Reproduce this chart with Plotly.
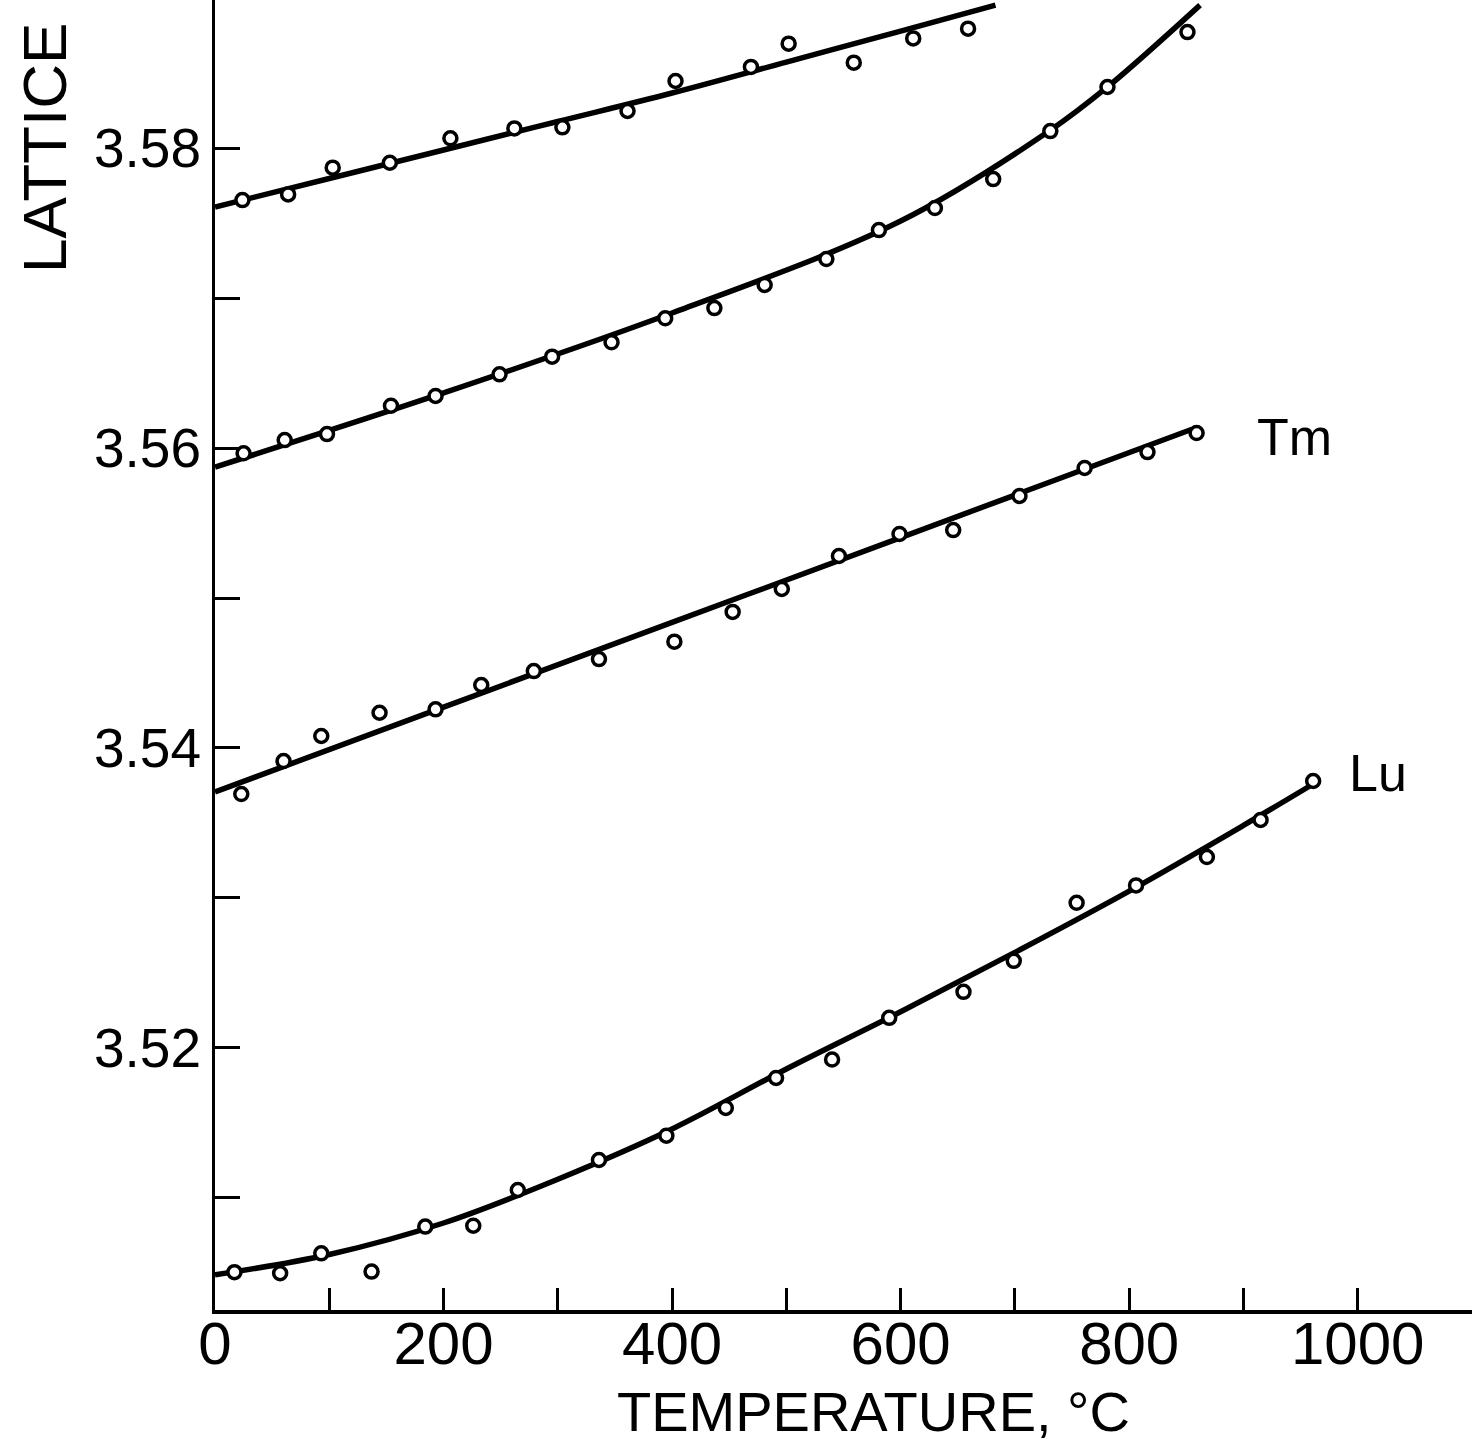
import plotly.graph_objects as go

# ---------------- data ----------------
# upper (unlabelled) series
temp_a = [24, 64, 103, 153, 206, 262, 304, 361, 403, 469, 502, 559, 611, 659]
latt_a = [3.57653, 3.57691, 3.57869, 3.57902, 3.58065, 3.58131, 3.58138, 3.58247,
          3.58447, 3.58541, 3.58696, 3.58569, 3.58731, 3.58796]
curve_t_a = [0, 100, 200, 300, 400, 500, 600, 683]
curve_v_a = [3.57607, 3.57797, 3.57987, 3.58177, 3.58367, 3.58573, 3.58780, 3.58953]

# second series
temp_b = [25, 61, 98, 154, 193, 249, 295, 347, 394, 437, 481, 535, 581, 630, 681, 731, 781, 851]
latt_b = [3.55965, 3.56053, 3.56093, 3.56282, 3.56347, 3.56491, 3.56609, 3.56705, 3.56865,
          3.56933, 3.57087, 3.57260, 3.57453, 3.57600, 3.57793, 3.58113, 3.58407, 3.58773]
curve_t_b = [0, 200, 400, 600, 730, 781, 862]
curve_v_b = [3.55873, 3.56367, 3.56900, 3.57513, 3.58113, 3.58407, 3.58953]

# Tm
temp_tm = [23, 60, 93, 144, 193, 233, 279, 336, 402, 453, 496, 546, 599, 646, 704, 761, 816, 859]
latt_tm = [3.53693, 3.53913, 3.54080, 3.54235, 3.54258, 3.54420, 3.54513, 3.54593, 3.54709,
           3.54907, 3.55060, 3.55280, 3.55427, 3.55453, 3.55680, 3.55867, 3.55973, 3.56100]
curve_t_tm = [0, 200, 400, 600, 855]
curve_v_tm = [3.53707, 3.54272, 3.54837, 3.55403, 3.56125]

# Lu
temp_lu = [17, 57, 93, 137, 184, 226, 265, 336, 395, 447, 491, 540, 590, 655, 699, 754,
           806, 868, 915, 961]
latt_lu = [3.50505, 3.50498, 3.50631, 3.50509, 3.50809, 3.50815, 3.51053, 3.51253, 3.51415,
           3.51600, 3.51800, 3.51923, 3.52201, 3.52374, 3.52581, 3.52968, 3.53084, 3.53273,
           3.53520, 3.53780]
curve_t_lu = [0, 100, 200, 300, 400, 500, 600, 700, 800, 900, 961]
curve_v_lu = [3.50487, 3.50623, 3.50833, 3.51125, 3.51460, 3.51860, 3.52241, 3.52637,
              3.53046, 3.53484, 3.53760]

series_labels = ["Tm", "Lu"]
label_t = [945, 1018]
label_v = [3.56073, 3.53833]

x_tickvals = list(range(0, 1101, 100))
x_ticktext = ["0", "", "200", "", "400", "", "600", "", "800", "", "1000", ""]
y_tickvals = [3.51, 3.52, 3.53, 3.54, 3.55, 3.56, 3.57, 3.58, 3.59]
y_ticktext = ["", "3.52", "", "3.54", "", "3.56", "", "3.58", ""]

X_RANGE = [0, 1100]
Y_RANGE = [3.50253, 3.58987]

FONT = "Liberation Sans, Arial, sans-serif"

fig = go.Figure()

curves = [(curve_t_a, curve_v_a), (curve_t_b, curve_v_b),
          (curve_t_tm, curve_v_tm), (curve_t_lu, curve_v_lu)]
points = [(temp_a, latt_a), (temp_b, latt_b), (temp_tm, latt_tm), (temp_lu, latt_lu)]

for ct, cv in curves:
    fig.add_trace(go.Scatter(x=ct, y=cv, mode="lines",
                             line=dict(color="black", width=5.5, shape="spline", smoothing=1.0),
                             showlegend=False, hoverinfo="skip"))
for pt, pv in points:
    fig.add_trace(go.Scatter(x=pt, y=pv, mode="markers",
                             marker=dict(symbol="circle", size=13, color="white",
                                         line=dict(color="black", width=3.5)),
                             showlegend=False))

for txt, t, v in zip(series_labels, label_t, label_v):
    fig.add_annotation(x=t, y=v, xref="x", yref="y", text=txt, showarrow=False,
                       xanchor="center", yanchor="middle",
                       font=dict(family=FONT, size=52, color="black"))

fig.add_annotation(xref="paper", yref="paper", x=0.5235, y=-0.0775, text="TEMPERATURE, °C",
                   xanchor="center", yanchor="middle", showarrow=False,
                   font=dict(family=FONT, size=56, color="black"))
fig.add_annotation(xref="paper", yref="paper", x=-0.136, y=0.887, text="LATTICE",
                   xanchor="center", yanchor="middle", textangle=-90, showarrow=False,
                   font=dict(family=FONT, size=62, color="black"))

fig.update_layout(
    width=1472, height=1450,
    margin=dict(l=215, r=0, t=0, b=140),
    paper_bgcolor="white", plot_bgcolor="white",
    xaxis=dict(range=X_RANGE, tickvals=x_tickvals, ticktext=x_ticktext,
               ticks="inside", ticklen=22, tickwidth=3, tickcolor="black",
               showline=True, linewidth=4, linecolor="black",
               showgrid=False, zeroline=False, ticklabelstandoff=-22,
               tickfont=dict(family=FONT, size=60, color="black")),
    yaxis=dict(range=Y_RANGE, tickvals=y_tickvals, ticktext=y_ticktext,
               ticks="inside", ticklen=25, tickwidth=3, tickcolor="black",
               showline=True, linewidth=3, linecolor="black",
               showgrid=False, zeroline=False,
               tickfont=dict(family=FONT, size=55, color="black")),
    yaxis2=dict(range=Y_RANGE, overlaying="y", side="right", tickvals=y_tickvals,
                ticks="inside", ticklen=22, tickwidth=3, tickcolor="black",
                showticklabels=False, showline=False, showgrid=False, zeroline=False),
)

fig.write_html("out.html")
